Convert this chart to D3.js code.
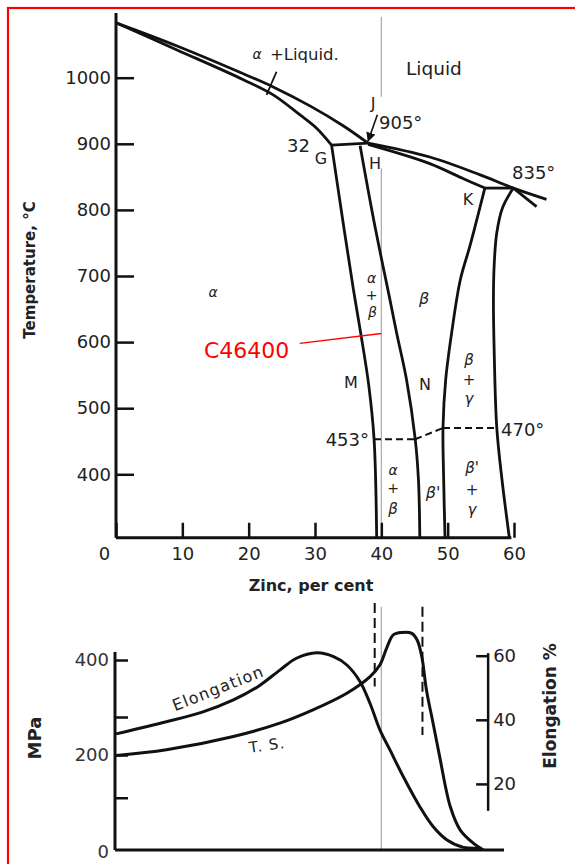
<!DOCTYPE html>
<html>
<head>
<meta charset="utf-8">
<script src="https://cdn.jsdelivr.net/npm/d3@7"></script>
<style>
  body { margin: 0; background: #fff; }
  svg { display: block; }
  text { font-family: "DejaVu Sans", sans-serif; fill: #222; }
</style>
</head>
<body>
<svg id="main-svg" width="575" height="864"></svg>
<script>
// ---- axis ticks
const zincTicks = [0, 10, 20, 30, 40, 50, 60];
const tempTicks = [400, 500, 600, 700, 800, 900, 1000];
const mpaTicks = [110, 200, 280, 400];
const mpaLabels = [0, 200, 400];
const elongTicks = [20, 40, 60];

// ---- phase boundaries [zinc %, temperature C]
const liquidusAlpha = [[0, 1083], [9.2, 1048], [19.2, 1006], [23.7, 986], [29.3, 957], [34.3, 927], [38.0, 901]];
const solidusAlpha = [[0, 1083], [9.2, 1042], [19.2, 997], [23.7, 974], [27.7, 944], [30.2, 924], [32.5, 898]];
const peritecticGJ = [[32.5, 898], [38.0, 901]];
const liquidusBeta = [[38.0, 901], [47.3, 880], [54.9, 853], [59.9, 833], [64.9, 816]];
const solidusBeta = [[38.0, 899], [47.3, 870], [52.4, 847], [55.6, 833]];
const peritecticK = [[55.6, 833], [59.9, 833]];
const gammaLiquidus = [[59.9, 833], [63.4, 805]];
const alphaSolvus = [[32.5, 898], [34.4, 770], [35.8, 679], [36.9, 613], [38.1, 535], [38.9, 454], [39.3, 304]];
const betaLeft = [[36.8, 897], [39.0, 777], [41.3, 664], [42.3, 614], [43.8, 543], [45.1, 454], [45.6, 391], [45.8, 304]];
const betaRight = [[55.6, 833], [53.4, 747], [51.9, 694], [50.6, 614], [49.7, 543], [49.3, 472], [49.4, 391], [49.6, 304]];
const gammaLeft = [[59.9, 833], [58.3, 804], [57.4, 765], [57.0, 714], [56.9, 664], [57.0, 592], [57.4, 471], [58.2, 391], [59.3, 304]];
const orderLines = [
  [[38.9, 453], [45.1, 453]],
  [[45.1, 453], [49.3, 470]],
  [[49.3, 470], [57.4, 470]]
];

// ---- properties vs zinc
const tensile = [[0, 199], [7.6, 211], [17.7, 239], [24.7, 267], [29.7, 295], [34.8, 330], [38.3, 365], [39.8, 390],
  [40.8, 425], [41.8, 453], [43.1, 458], [44.6, 456], [45.4, 442], [46.1, 407], [46.8, 337], [47.8, 267],
  [48.8, 196], [50.4, 91], [51.9, 42], [53.9, 14], [55.4, 0]];
const elongation = [[0, 35.6], [7.6, 39.4], [13, 42.4], [17.7, 46.2], [21.5, 50.5], [24.7, 55.5], [27.2, 59.2], [30.3, 60.9], [32.8, 59.7],
  [34.8, 57.1], [36.8, 51.9], [38.3, 45.1], [39.8, 36.8], [41.3, 30.6], [43.3, 22.3], [45.8, 12.9], [47.8, 6.7],
  [49.9, 2.5], [52.4, 0.2], [54.9, 0]];
const phaseLimits = [39.0, 46.2];

const svg = d3.select("#main-svg");

// red frame
svg.append("rect").attr("x", 8).attr("y", 8).attr("width", 700).attr("height", 900)
  .attr("fill", "none").attr("stroke", "#f00").attr("stroke-width", 2.2);

const x = d3.scaleLinear().domain([0, 60]).range([116, 514]);
const yT = d3.scaleLinear().domain([400, 1000]).range([474.3, 77.7]);
const yS = d3.scaleLinear().domain([0, 400]).range([850, 660]);
const yE = d3.scaleLinear().domain([0, 60]).range([848, 655.7]);

const tLine = d3.line().x(d => x(d[0])).y(d => yT(d[1])).curve(d3.curveCatmullRom.alpha(0.5));

// gray reference line at 40 % zinc
const gray = svg.append("g").attr("stroke", "#aaa").attr("stroke-width", 1.2);
[[1092, 971], [863, 304]].forEach(r => {
  gray.append("line").attr("x1", x(40)).attr("x2", x(40)).attr("y1", yT(r[0])).attr("y2", yT(r[1]));
});
gray.append("line").attr("x1", x(40)).attr("x2", x(40)).attr("y1", yS(512)).attr("y2", yS(0));

// ---- top axes
const xAxis = d3.axisBottom(x).tickValues(zincTicks).tickSizeInner(-15).tickSizeOuter(0).tickPadding(9);
const gx = svg.append("g").attr("transform", `translate(0,${yT(304)})`).call(xAxis);
gx.select(".domain").remove();
gx.selectAll("line").attr("stroke", "#111").attr("stroke-width", 2.5);
gx.selectAll("text").attr("font-size", 18).attr("fill", "#333")
  .attr("dx", d => d === 0 ? -12 : 0);

const yAxis = d3.axisLeft(yT).tickValues(tempTicks).tickFormat(d3.format("d"))
  .tickSizeInner(-18).tickSizeOuter(0).tickPadding(5);
const gy = svg.append("g").attr("transform", `translate(${x(0)},0)`).call(yAxis);
gy.select(".domain").remove();
gy.selectAll("line").attr("stroke", "#111").attr("stroke-width", 2.5);
gy.selectAll("text").attr("font-size", 18).attr("fill", "#333");

svg.append("line").attr("x1", x(0)).attr("x2", x(0)).attr("y1", yT(1098)).attr("y2", yT(304))
  .attr("stroke", "#111").attr("stroke-width", 3);
svg.append("line").attr("x1", x(0)).attr("x2", x(59.6)).attr("y1", yT(304)).attr("y2", yT(304))
  .attr("stroke", "#111").attr("stroke-width", 3);

// ---- phase boundaries
const phase = svg.append("g").attr("fill", "none").attr("stroke", "#111").attr("stroke-width", 2.8)
  .attr("stroke-linejoin", "round");
[liquidusAlpha, solidusAlpha, peritecticGJ, liquidusBeta, solidusBeta, peritecticK, gammaLiquidus,
  alphaSolvus, betaLeft, betaRight, gammaLeft].forEach(d => phase.append("path").attr("d", tLine(d)));
phase.selectAll(".order").data(orderLines).join("path").attr("class", "order")
  .attr("d", d3.line().x(d => x(d[0])).y(d => yT(d[1])))
  .attr("stroke-width", 2).attr("stroke-dasharray", "7,4");

// leader lines
svg.append("defs").append("marker").attr("id", "arr").attr("viewBox", "0 0 10 10")
  .attr("refX", 9).attr("refY", 5).attr("markerWidth", 6).attr("markerHeight", 6).attr("orient", "auto")
  .append("path").attr("d", "M0,0L10,5L0,10z").attr("fill", "#111");
svg.append("line").attr("x1", x(39.4)).attr("y1", yT(944)).attr("x2", x(38.0)).attr("y2", yT(904))
  .attr("stroke", "#111").attr("stroke-width", 1.6).attr("marker-end", "url(#arr)");
svg.append("line").attr("x1", x(24.2)).attr("y1", yT(1009)).attr("x2", x(22.7)).attr("y2", yT(974))
  .attr("stroke", "#111").attr("stroke-width", 1.8);
svg.append("line").attr("x1", x(27.7)).attr("y1", yT(598)).attr("x2", x(40.0)).attr("y2", yT(613))
  .attr("stroke", "#f00").attr("stroke-width", 1.3);

// ---- top labels
const topLabels = [
  {t: "α", x: 257, y: 54, s: 14, i: true},
  {t: "+Liquid.", x: 270, y: 54, s: 16.5, a: "start"},
  {t: "Liquid", x: 406, y: 68, s: 18.5, a: "start"},
  {t: "J", x: 373, y: 103, s: 16},
  {t: "905°", x: 379, y: 123, s: 18, a: "start"},
  {t: "32", x: 310, y: 146, s: 18, a: "end"},
  {t: "G", x: 321, y: 158, s: 16},
  {t: "H", x: 375, y: 163, s: 16},
  {t: "835°", x: 512, y: 173, s: 18, a: "start"},
  {t: "K", x: 468, y: 199, s: 16},
  {t: "α", x: 213, y: 292, s: 14, i: true},
  {t: "β", x: 424, y: 298, s: 16, i: true},
  {t: "α", x: 371.5, y: 278, s: 14, i: true},
  {t: "+", x: 371.5, y: 295, s: 14},
  {t: "β", x: 372.5, y: 312, s: 14, i: true},
  {t: "M", x: 351, y: 382, s: 16},
  {t: "N", x: 425, y: 384, s: 16},
  {t: "β", x: 469, y: 360, s: 15, i: true},
  {t: "+", x: 469, y: 380, s: 15},
  {t: "γ", x: 469, y: 399, s: 15, i: true},
  {t: "453°", x: 369, y: 440, s: 18, a: "end"},
  {t: "470°", x: 501, y: 430, s: 18, a: "start"},
  {t: "α", x: 393, y: 470, s: 14, i: true},
  {t: "+", x: 393, y: 488, s: 14},
  {t: "β", x: 393, y: 509, s: 15, i: true},
  {t: "β'", x: 433, y: 492, s: 16, i: true},
  {t: "β'", x: 472, y: 468, s: 15, i: true},
  {t: "+", x: 472, y: 490, s: 15},
  {t: "γ", x: 472, y: 510, s: 15, i: true}
];
svg.append("g").selectAll("text").data(topLabels).join("text")
  .attr("x", d => d.x).attr("y", d => d.y).attr("dy", "0.36em")
  .attr("text-anchor", d => d.a || "middle")
  .attr("font-size", d => d.s)
  .attr("font-style", d => d.i ? "italic" : null)
  .text(d => d.t);

svg.append("text").attr("x", 204).attr("y", 350).attr("dy", "0.36em")
  .attr("font-size", 22).style("fill", "#f00").text("C46400");

svg.append("text").attr("x", 311).attr("y", 585).attr("dy", "0.36em").attr("text-anchor", "middle")
  .attr("font-size", 16).attr("font-weight", "bold").text("Zinc, per cent");
svg.append("text").attr("transform", "translate(30,270) rotate(-90)").attr("dy", "0.36em")
  .attr("text-anchor", "middle").attr("font-size", 15).attr("font-weight", "bold").text("Temperature, °C");

// ---- bottom chart axes
svg.append("line").attr("x1", x(0) - 1).attr("x2", x(0) - 1).attr("y1", yS(417)).attr("y2", yS(0))
  .attr("stroke", "#111").attr("stroke-width", 3);
svg.append("line").attr("x1", x(0) - 1).attr("x2", x(58.5)).attr("y1", yS(0)).attr("y2", yS(0))
  .attr("stroke", "#111").attr("stroke-width", 3);

const gs = svg.append("g").attr("transform", `translate(${x(0) - 1},0)`)
  .call(d3.axisLeft(yS).tickValues(mpaTicks).tickSizeInner(-13).tickSizeOuter(0).tickFormat(""));
gs.select(".domain").remove();
gs.selectAll("line").attr("stroke", "#111").attr("stroke-width", 2.5);
svg.append("g").selectAll("text").data(mpaLabels).join("text")
  .attr("x", x(0) - 7).attr("y", d => yS(d) + (d === 0 ? 2 : 0)).attr("dy", "0.36em")
  .attr("text-anchor", "end").attr("font-size", 18).style("fill", "#333").text(d => d);

const ge = svg.append("g").attr("transform", `translate(${x(56.1)},0)`)
  .call(d3.axisRight(yE).tickValues(elongTicks).tickSizeInner(-12).tickSizeOuter(0).tickPadding(5));
ge.select(".domain").remove();
ge.selectAll("line").attr("stroke", "#111").attr("stroke-width", 2.5);
ge.selectAll("text").attr("font-size", 18).attr("fill", "#333");
svg.append("line").attr("x1", x(56.1)).attr("x2", x(56.1)).attr("y1", yE(60.8)).attr("y2", yE(11.6))
  .attr("stroke", "#111").attr("stroke-width", 2.5);

// phase limit dashes
svg.append("g").selectAll("line").data(phaseLimits).join("line")
  .attr("x1", d => x(d)).attr("x2", d => x(d))
  .attr("y1", (d, i) => yS(i === 0 ? 520 : 512)).attr("y2", (d, i) => yS(i === 0 ? 344 : 242))
  .attr("stroke", "#111").attr("stroke-width", 2).attr("stroke-dasharray", "10,5");

// curves
const props = svg.append("g").attr("fill", "none").attr("stroke", "#111").attr("stroke-width", 3);
props.append("path").attr("d", d3.line().x(d => x(d[0])).y(d => yS(d[1])).curve(d3.curveCatmullRom.alpha(0.5))(tensile));
props.append("path").attr("d", d3.line().x(d => x(d[0])).y(d => yE(d[1])).curve(d3.curveCatmullRom.alpha(0.5))(elongation));

svg.append("text").attr("transform", "translate(218,688) rotate(-21.5)").attr("dy", "0.36em")
  .attr("text-anchor", "middle").attr("font-size", 16).attr("letter-spacing", 1.2).text("Elongation");
svg.append("text").attr("transform", "translate(267,745) rotate(-8)").attr("dy", "0.36em")
  .attr("text-anchor", "middle").attr("font-size", 15).attr("letter-spacing", 1).text("T. S.");

svg.append("text").attr("transform", "translate(35,738) rotate(-90)").attr("dy", "0.36em")
  .attr("text-anchor", "middle").attr("font-size", 18).attr("font-weight", "bold").text("MPa");
svg.append("text").attr("transform", "translate(550,706) rotate(-90)").attr("dy", "0.36em")
  .attr("text-anchor", "middle").attr("font-size", 17).attr("font-weight", "bold").text("Elongation %");
</script>
</body>
</html>
